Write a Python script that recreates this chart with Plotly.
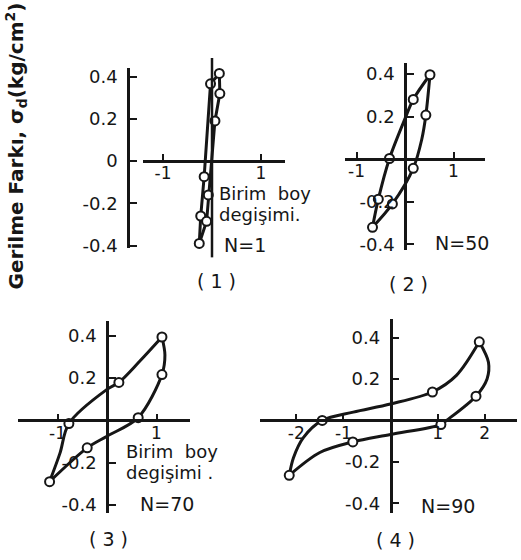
import plotly.graph_objects as go

W, H = 521, 560
INK = "#161616"
FONT = "DejaVu Sans"

# ---------------- data ----------------
# Panel 1 (N=1)
p1_desc_x = [0.15, 0.16, 0.06, -0.075, -0.11, -0.26]
p1_desc_y = [0.415, 0.32, 0.19, -0.16, -0.285, -0.39]
p1_asc_x = [-0.26, -0.23, -0.16, -0.03, 0.15]
p1_asc_y = [-0.39, -0.26, -0.074, 0.366, 0.415]
p1_pts_x = [0.15, -0.03, 0.16, 0.06, -0.16, -0.075, -0.23, -0.11, -0.26]
p1_pts_y = [0.415, 0.366, 0.32, 0.19, -0.074, -0.16, -0.26, -0.285, -0.39]

# Panel 2 (N=50)
p2_desc_x = [0.515, 0.43, 0.345, 0.17, -0.26, -0.67]
p2_desc_y = [0.396, 0.207, 0.092, -0.043, -0.21, -0.32]
p2_asc_x = [-0.67, -0.55, -0.32, 0.0, 0.17, 0.515]
p2_asc_y = [-0.32, -0.188, 0.003, 0.19, 0.28, 0.396]
p2_pts_x = [0.515, 0.17, 0.43, -0.32, 0.17, -0.55, -0.26, -0.67]
p2_pts_y = [0.396, 0.28, 0.207, 0.003, -0.043, -0.188, -0.21, -0.32]

# Panel 3 (N=70)
p3_desc_x = [1.11, 1.17, 1.11, 0.63, 0.0, -0.40, -1.16]
p3_desc_y = [0.395, 0.31, 0.217, 0.013, -0.075, -0.13, -0.29]
p3_asc_x = [-1.16, -0.95, -0.77, 0.0, 0.24, 0.66, 1.11]
p3_asc_y = [-0.29, -0.155, -0.015, 0.147, 0.18, 0.28, 0.395]
p3_pts_x = [1.11, 1.11, 0.63, 0.24, -0.77, -0.40, -1.16]
p3_pts_y = [0.395, 0.217, 0.013, 0.18, -0.015, -0.13, -0.29]

# Panel 4 (N=90)
p4_desc_x = [1.885, 2.08, 2.05, 1.815, 1.19, 1.07, 0.0, -0.80, -1.5, -2.15]
p4_desc_y = [0.379, 0.28, 0.20, 0.117, 0.0, -0.02, -0.068, -0.104, -0.155, -0.265]
p4_asc_x = [-2.15, -2.06, -1.85, -1.45, -0.79, 0.0, 0.89, 1.4, 1.885]
p4_asc_y = [-0.265, -0.18, -0.083, 0.0, 0.04, 0.079, 0.137, 0.217, 0.379]
p4_pts_x = [1.885, 1.815, 0.89, 1.07, -1.45, -0.80, -2.15]
p4_pts_y = [0.379, 0.117, 0.137, -0.02, 0.0, -0.104, -0.265]

# tick values / labels
p1_xtick_vals = [-1, 1]
p1_xtick_text = ["-1", "1"]
p1_ytick_vals = [-0.4, -0.2, 0, 0.2, 0.4]
p1_ytick_text = ["-0.4", "-0.2", "0", "0.2", "0.4"]
p2_xtick_vals = [-1, 1]
p2_xtick_text = ["-1", "1"]
p2_ytick_vals = [-0.4, -0.2, 0.2, 0.4]
p2_ytick_text = ["-0.4", "-0.2", "0.2", "0.4"]
p3_xtick_vals = [-1, 1]
p3_xtick_text = ["-1", "1"]
p3_ytick_vals = [-0.4, -0.2, 0.2, 0.4]
p3_ytick_text = ["-0.4", "-0.2", "0.2", "0.4"]
p4_xtick_vals = [-2, -1, 1, 2]
p4_xtick_text = ["-2", "-1", "1", "2"]
p4_ytick_vals = [-0.4, -0.2, 0.2, 0.4]
p4_ytick_text = ["-0.4", "-0.2", "0.2", "0.4"]

panels = [
    dict(desc=(p1_desc_x, p1_desc_y), asc=(p1_asc_x, p1_asc_y), pts=(p1_pts_x, p1_pts_y),
         xt=(p1_xtick_vals, p1_xtick_text), yt=(p1_ytick_vals, p1_ytick_text), spline=False,
         geo=dict(xl=143, xr=285, x0=212, sx=49, yt=67, yb=250, y0=162, sy=215, yax=128)),
    dict(desc=(p2_desc_x, p2_desc_y), asc=(p2_asc_x, p2_asc_y), pts=(p2_pts_x, p2_pts_y),
         xt=(p2_xtick_vals, p2_xtick_text), yt=(p2_ytick_vals, p2_ytick_text), spline=True,
         geo=dict(xl=345, xr=485, x0=405, sx=48.5, yt=62, yb=253, y0=160, sy=217, yax=405)),
    dict(desc=(p3_desc_x, p3_desc_y), asc=(p3_asc_x, p3_asc_y), pts=(p3_pts_x, p3_pts_y),
         xt=(p3_xtick_vals, p3_xtick_text), yt=(p3_ytick_vals, p3_ytick_text), spline=True,
         geo=dict(xl=18, xr=190, x0=107, sx=49.5, yt=325, yb=520, y0=426, sy=215, yax=107)),
    dict(desc=(p4_desc_x, p4_desc_y), asc=(p4_asc_x, p4_asc_y), pts=(p4_pts_x, p4_pts_y),
         xt=(p4_xtick_vals, p4_xtick_text), yt=(p4_ytick_vals, p4_ytick_text), spline=True,
         geo=dict(xl=260, xr=517, x0=390.5, sx=47.1, yt=323, yb=520, y0=426, sy=211, yax=390.5)),
]

fig = go.Figure()
layout = {}
ytickfont = dict(family=FONT, size=18, color=INK)
xtickfont = dict(family=FONT, size=17, color=INK)

for i, p in enumerate(panels, start=1):
    g = p["geo"]
    xa = "x" if i == 1 else f"x{i}"
    ya = "y" if i == 1 else f"y{i}"
    line_shape = "spline" if p["spline"] else "linear"
    for bx, by in (p["desc"], p["asc"]):
        fig.add_trace(go.Scatter(x=bx, y=by, mode="lines", xaxis=xa, yaxis=ya,
                                 line=dict(color=INK, width=3, shape=line_shape, smoothing=0.9),
                                 hoverinfo="skip", cliponaxis=False))
    fig.add_trace(go.Scatter(x=p["pts"][0], y=p["pts"][1], mode="markers", xaxis=xa, yaxis=ya,
                             marker=dict(symbol="circle", size=9, color="white",
                                         line=dict(color=INK, width=2)),
                             cliponaxis=False, hoverinfo="skip"))
    xrange_ = [(g["xl"] - g["x0"]) / g["sx"], (g["xr"] - g["x0"]) / g["sx"]]
    yrange_ = [(g["y0"] - g["yb"]) / g["sy"], (g["y0"] - g["yt"]) / g["sy"]]
    xkey = "xaxis" if i == 1 else f"xaxis{i}"
    ykey = "yaxis" if i == 1 else f"yaxis{i}"
    layout[xkey] = dict(domain=[g["xl"] / W, g["xr"] / W], range=xrange_, anchor="free",
                        position=1 - g["y0"] / H, showgrid=False, zeroline=False,
                        showline=True, linecolor=INK, linewidth=2.5,
                        ticks="inside", ticklen=6, tickwidth=2, tickcolor=INK,
                        tickvals=p["xt"][0], ticktext=p["xt"][1], tickfont=xtickfont,
                        ticklabelstandoff=-4, fixedrange=True)
    layout[ykey] = dict(domain=[1 - g["yb"] / H, 1 - g["yt"] / H], range=yrange_, anchor="free",
                        position=g["yax"] / W, showgrid=False, zeroline=False,
                        showline=True, linecolor=INK, linewidth=2.5,
                        ticks="inside", ticklen=7, tickwidth=2, tickcolor=INK,
                        tickvals=p["yt"][0], ticktext=p["yt"][1], tickfont=ytickfont,
                        ticklabelstandoff=6, fixedrange=True)

# panel 1: vertical line through x = 0
shapes = [dict(type="line", xref="x", yref="paper", x0=0, x1=0,
               y0=1 - 260 / H, y1=1 - 57 / H, line=dict(color=INK, width=2.5))]

def ann(text, px, py, size=19, xanchor="center", angle=0):
    return dict(text=text, x=px / W, y=1 - py / H, xref="paper", yref="paper",
                showarrow=False, xanchor=xanchor, yanchor="middle", textangle=angle,
                font=dict(family=FONT, size=size, color=INK))

NB = "\u00a0"
annotations = [
    ann("<b>Gerilme Farkı, σ<sub>d</sub>(kg/cm<sup>2</sup>)</b>", 16, 147, size=20, angle=-90),
    ann("Birim" + NB * 2 + "boy", 217, 195, size=18, xanchor="left"),
    ann("degişimi.", 217, 216, size=18, xanchor="left"),
    ann("N=1", 245, 247),
    ann("( 1 )", 216, 284),
    ann("N=50", 462, 245),
    ann("( 2 )", 408, 287),
    ann("Birim" + NB * 2 + "boy", 124, 458, size=18, xanchor="left"),
    ann("degişimi" + NB + ".", 124, 479, size=18, xanchor="left"),
    ann("N=70", 167, 511),
    ann("( 3 )", 108, 547),
    ann("N=90", 448, 513),
    ann("( 4 )", 395, 548),
]

fig.update_layout(width=W, height=H, margin=dict(l=0, r=0, t=0, b=0),
                  paper_bgcolor="white", plot_bgcolor="rgba(0,0,0,0)",
                  showlegend=False, shapes=shapes, annotations=annotations, **layout)

fig.write_html("out.html")
